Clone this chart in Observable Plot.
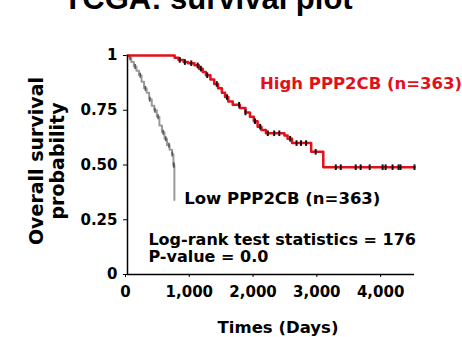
<!DOCTYPE html>
<html>
<head>
<meta charset="utf-8">
<script src="https://cdn.jsdelivr.net/npm/d3@7"></script>
<script src="https://cdn.jsdelivr.net/npm/@observablehq/plot@0.6"></script>
<style>
  html, body { margin: 0; padding: 0; background: #fff; }
</style>
</head>
<body>
<div id="chart"></div>
<script>
// ---- data ----
const highDays = [0, 740, 800, 880, 950, 1050, 1120, 1180, 1230, 1300, 1360, 1420, 1480, 1530, 1580, 1650, 1760, 1850, 1920, 1980, 2040, 2100, 2170, 2460, 2510, 2580, 2880, 3070, 4500];
const highSurv = [1, 0.99, 0.98, 0.97, 0.965, 0.955, 0.94, 0.925, 0.91, 0.89, 0.87, 0.85, 0.83, 0.81, 0.79, 0.775, 0.76, 0.74, 0.72, 0.70, 0.675, 0.66, 0.645, 0.635, 0.62, 0.60, 0.56, 0.49, 0.49];
const highCensor = [820, 900, 1000, 1100, 1150, 1250, 1400, 1560, 1750, 1850, 2000, 2080, 2200, 2300, 2380, 2550, 2650, 2720, 2800, 2950, 3266, 3344, 3578, 3656, 3797, 4000, 4047, 4156, 4250, 4281, 4500];

const lowDays = [0, 30, 60, 100, 140, 180, 220, 260, 300, 340, 380, 420, 460, 500, 540, 580, 620, 660, 700, 720, 735];
const lowSurv = [1, 0.99, 0.97, 0.95, 0.93, 0.91, 0.88, 0.85, 0.83, 0.80, 0.77, 0.75, 0.72, 0.68, 0.65, 0.62, 0.59, 0.57, 0.55, 0.50, 0.34];
const lowCensor = [40, 120, 200, 280, 350, 430, 480, 560, 600, 650, 700, 722, 728];

const xTicks = [0, 1000, 2000, 3000, 4000];
const yTicks = [0, 0.25, 0.5, 0.75, 1];
const yTickLabels = ["0", "0.25", "0.50", "0.75", "1"];

const titleText = "TCGA: survival plot";
const highLabel = "High PPP2CB (n=363)";
const lowLabel = "Low PPP2CB (n=363)";
const statLines = ["Log-rank test statistics = 176", "P-value = 0.0"];
const yTitle = ["Overall survival", "probability"];
const xTitle = "Times (Days)";

// ---- build tables ----
const high = highDays.map((d, i) => ({day: d, surv: highSurv[i]}));
const low = lowDays.map((d, i) => ({day: d, surv: lowSurv[i]}));
function stepAt(rows, d) {
  let s = rows[0].surv;
  for (const r of rows) { if (r.day <= d) s = r.surv; else break; }
  return s;
}
const highC = highCensor.map(d => ({day: d, surv: stepAt(high, d)}));
const lowC = lowCensor.map(d => ({day: d, surv: stepAt(low, d)}));

const vtick = {
  draw(ctx, size) {
    const r = Math.sqrt(size / Math.PI);
    ctx.moveTo(0, -r); ctx.lineTo(0, r);
  }
};

const font = "DejaVu Sans";

const chart = Plot.plot({
  width: 462,
  height: 337,
  marginLeft: 127,
  marginRight: 48,
  marginTop: 55,
  marginBottom: 63,
  style: {fontFamily: font, fontWeight: "bold", color: "#000", background: "#fff"},
  x: {domain: [0, 4500]},
  y: {domain: [0, 1]},
  marks: [
    Plot.axisX(xTicks, {tickFormat: d3.format(","), tickSize: 3, tickPadding: 9, fontSize: 15, fontWeight: "bold", label: null, dx: -2}),
    Plot.axisY(yTicks, {tickFormat: d => yTickLabels[yTicks.indexOf(d)], tickSize: 4, tickPadding: 6, fontSize: 15, fontWeight: "bold", label: null}),
    Plot.line(low, {x: "day", y: "surv", curve: "step-after", stroke: "#9a9a9a", strokeWidth: 2}),
    Plot.dot(lowC, {x: "day", y: "surv", symbol: vtick, r: 2.5, stroke: "#555", strokeWidth: 1.5}),
    Plot.line(high, {x: "day", y: "surv", curve: "step-after", stroke: "#e3101a", strokeWidth: 2.5}),
    Plot.dot(highC, {x: "day", y: "surv", symbol: vtick, r: 2.8, stroke: "#111", strokeWidth: 2}),
    Plot.ruleY([0], {stroke: "#000", strokeWidth: 1.5}),
    Plot.ruleX([0], {stroke: "#000", strokeWidth: 1.5}),
    Plot.text([highLabel], {x: 2078, y: 0.872, text: d => d, textAnchor: "start", lineAnchor: "middle", fill: "#e3101a", fontSize: 16.5, fontWeight: "bold", fontFamily: font}),
    Plot.text([lowLabel], {x: 890, y: 0.347, text: d => d, textAnchor: "start", lineAnchor: "middle", fill: "#000", fontSize: 16.5, fontWeight: "bold", fontFamily: font}),
    Plot.text([statLines[0]], {x: 328, y: 0.16, text: d => d, textAnchor: "start", lineAnchor: "middle", fill: "#000", fontSize: 16, fontWeight: "bold", fontFamily: font}),
    Plot.text([statLines[1]], {x: 328, y: 0.08, text: d => d, textAnchor: "start", lineAnchor: "middle", fill: "#000", fontSize: 16, fontWeight: "bold", fontFamily: font}),
    Plot.text([yTitle.join("\n")], {frameAnchor: "left", dx: -81, dy: -4, rotate: -90, text: d => d, textAnchor: "middle", lineAnchor: "middle", lineHeight: 1.1, fontSize: 19, fontWeight: "bold", fontFamily: font, fill: "#000"}),
    Plot.text([xTitle], {frameAnchor: "bottom", dx: 7, dy: 53, text: d => d, textAnchor: "middle", lineAnchor: "middle", fontSize: 16.5, fontWeight: "bold", fontFamily: font, fill: "#000"}),
    Plot.text([titleText], {frameAnchor: "top", dx: -63, dy: -47, text: d => d, textAnchor: "middle", lineAnchor: "bottom", fontSize: 31, fontWeight: "bold", fontFamily: "Liberation Sans", fill: "#000"})
  ]
});
document.getElementById("chart").appendChild(chart);
</script>
</body>
</html>
